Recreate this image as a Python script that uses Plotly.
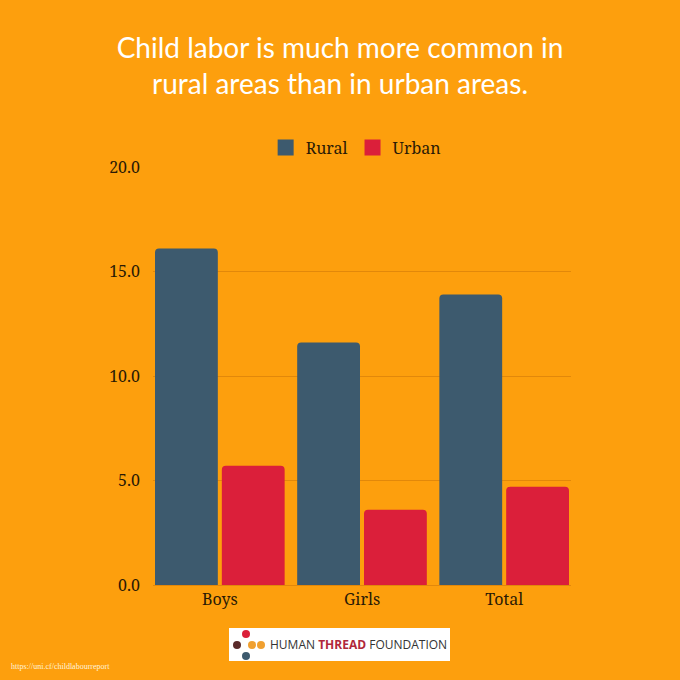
import plotly.graph_objects as go

# Child labour prevalence (%) by sex and area of residence
categories = ["Boys", "Girls", "Total"]
rural = [16.1, 11.6, 13.9]
urban = [5.7, 3.6, 4.7]

bg = "#FD9F0D"
grid = "#E2880A"
ink = "#2A1A05"
rural_col = "#3D5A6E"
urban_col = "#DB1F3A"
serif = "Noto Serif, DejaVu Serif, serif"

fig = go.Figure()
fig.add_trace(go.Bar(x=categories, y=rural, name="Rural", marker_color=rural_col,
                     marker_line_width=0, showlegend=False))
fig.add_trace(go.Bar(x=categories, y=urban, name="Urban", marker_color=urban_col,
                     marker_line_width=0, showlegend=False))
# legend entries with bigger square swatches
for name, col in [("Rural", rural_col), ("Urban", urban_col)]:
    fig.add_trace(go.Scatter(x=[None], y=[None], mode="markers", name=name,
                             marker=dict(symbol="square", size=21, color=col)))

fig.update_layout(
    width=680, height=680,
    paper_bgcolor=bg, plot_bgcolor=bg,
    margin=dict(l=153, r=109, t=167, b=95),
    barmode="group", bargap=0.06, bargroupgap=0.06, barcornerradius=4,
    font=dict(family=serif, size=16, color=ink),
    title=dict(text="Child labor is much more common in<br>rural areas than in urban areas.",
               x=0.5, xanchor="center", y=0.915, yanchor="middle",
               font=dict(family="Lato, sans-serif", size=28, color="white")),
    legend=dict(orientation="h", x=0.486, xanchor="center", y=1.006, yanchor="bottom",
                font=dict(size=16, color=ink), itemwidth=30,
                bgcolor="rgba(0,0,0,0)"),
)
fig.update_yaxes(range=[0, 20], dtick=5, tickformat=".1f", gridcolor=grid, gridwidth=1,
                 zeroline=False, showline=False, ticks="", ticklabelstandoff=12,
                 tickfont=dict(size=16, color=ink))
fig.update_xaxes(range=[-0.47, 2.47], showline=True, linecolor=grid, linewidth=1, ticks="",
                 tickfont=dict(size=16, color=ink))

# logo box
fig.add_shape(type="rect", xref="paper", yref="paper",
              x0=(229 - 153) / 418, x1=(450 - 153) / 418,
              y0=-(661 - 585) / 418, y1=-(628 - 585) / 418,
              fillcolor="white", line_width=0, layer="above")
dots = [(246, 634, "#DB1F3A"), (252, 645, "#F0A030"), (246, 656, "#3D5A6E"),
        (237, 645, "#5A2A2A"), (261, 645, "#F0A030")]
for cx, cy, col in dots:
    fig.add_shape(type="circle", xref="paper", yref="paper",
                  x0=(cx - 4 - 153) / 418, x1=(cx + 4 - 153) / 418,
                  y0=-(cy + 4 - 585) / 418, y1=-(cy - 4 - 585) / 418,
                  fillcolor=col, line_width=0, layer="above")
fig.add_annotation(xref="paper", yref="paper", x=(268 - 153) / 418, y=-(644.5 - 585) / 418,
                   xanchor="left", yanchor="middle", showarrow=False,
                   text="HUMAN <b><span style='color:#B0283A'>THREAD</span></b> FOUNDATION",
                   font=dict(family="Open Sans, sans-serif", size=12, color="#333333"))
fig.add_annotation(xref="paper", yref="paper", x=-(153 - 9) / 418, y=-(666 - 585) / 418,
                   xanchor="left", yanchor="middle", showarrow=False,
                   text="https://uni.cf/childlabourreport",
                   font=dict(family="Liberation Serif, serif", size=8, color="#FFF3DC"))

fig.write_html("out.html", config={"displayModeBar": False},
               post_script="document.body.style.margin='0';")
